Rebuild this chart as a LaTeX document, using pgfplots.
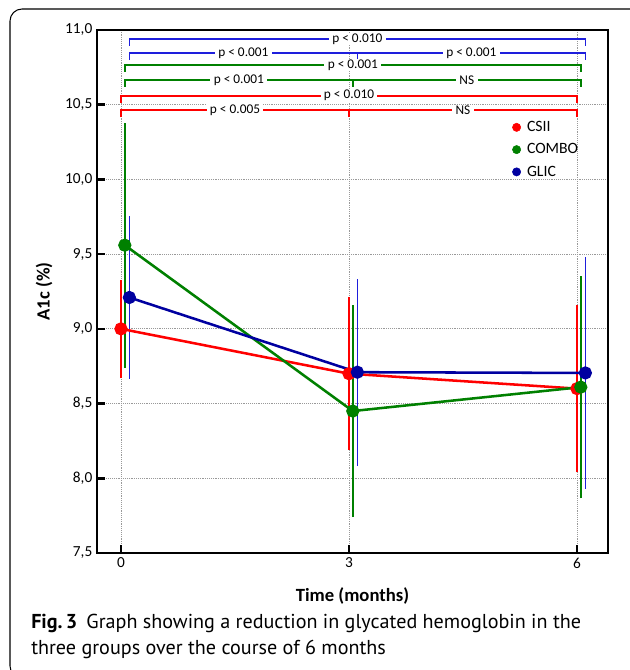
\documentclass[border=0pt]{standalone}
\usepackage{fontspec}
\setmainfont{Carlito}
\newfontfamily\capfont{PT Sans}
\usepackage{pgfplots}
\pgfplotsset{compat=1.18}
\definecolor{cred}{RGB}{255,0,0}
\definecolor{cgreen}{RGB}{0,128,0}
\definecolor{cblue}{RGB}{0,0,160}
\definecolor{cblueb}{RGB}{30,30,220}
\begin{document}
\begin{tikzpicture}[x=0.75pt,y=-0.75pt]
\draw[line width=0.8pt, rounded corners=9pt] (10,9) rectangle (660,678);
\begin{axis}[
  at={(72.75pt,-414.75pt)}, anchor=south west,
  scale only axis, width=383.25pt, height=392.25pt,
  xmin=-0.3158, xmax=6.408, ymin=7.5, ymax=11.0,
  xtick={0,3,6}, ytick={7.5,8,8.5,9,9.5,10,10.5,11},
  xtick pos=bottom, ytick pos=left, tick align=inside,
  major tick length=6pt,
  every tick/.style={black, line width=2pt},
  axis line style={line width=2pt},
  grid=major,
  major grid style={densely dotted, gray!80, line width=0.7pt},
  tick label style={font=\fontsize{11.5}{13}\selectfont},
  /pgf/number format/assume math mode=true,
  yticklabel style={/pgf/number format/.cd, fixed, fixed zerofill, precision=1, use comma},
  xticklabel style={/pgf/number format/.cd, fixed, precision=0},
  ylabel={\textbf{A1c (\%)}},
  xlabel={\textbf{Time (months)}},
  label style={font=\fontsize{14}{16}\selectfont},
  ylabel style={at={(axis description cs:-0.1037,0.5)}, anchor=center},
  xlabel style={at={(axis description cs:0.5,-0.0822)}, anchor=center},
  legend image code/.code={\fill[#1] (0pt,0pt) circle (3.1pt);},
  legend style={at={(axis description cs:0.812,0.828)}, anchor=north west,
    draw=none, fill=none, inner sep=0pt, row sep=6pt,
    font=\fontsize{11.8}{13}\selectfont,
    nodes={inner sep=0pt, text height=8.5pt, text depth=2.2pt},
    /tikz/every even column/.append style={column sep=0pt}},
  legend cell align=left,
  unbounded coords=jump,
  clip=false,
]
\addlegendimage{cred}
\addlegendimage{cgreen}
\addlegendimage{cblue}
\legend{\hspace{4.5pt}CSII,\hspace{4.5pt}COMBO,\hspace{4.5pt}GLIC}
% significance brackets
\addplot[cred, line width=1.2pt, forget plot] coordinates {(0,10.418) (0,10.465) (6,10.465) (6,10.418)};
\addplot[cred, line width=1.2pt, forget plot] coordinates {(3,10.465) (3,10.418)};
\addplot[cred, line width=1.2pt, forget plot] coordinates {(0,10.513) (0,10.56) (6,10.56) (6,10.513)};
\addplot[cgreen, line width=1.2pt, forget plot] coordinates {(0.05,10.619) (0.05,10.666) (6.05,10.666) (6.05,10.619)};
\addplot[cgreen, line width=1.2pt, forget plot] coordinates {(3.05,10.666) (3.05,10.619)};
\addplot[cgreen, line width=1.2pt, forget plot] coordinates {(0.05,10.719) (0.05,10.766) (6.05,10.766) (6.05,10.719)};
\addplot[cblueb, line width=1.2pt, forget plot] coordinates {(0.11,10.798) (0.11,10.845) (6.11,10.845) (6.11,10.798)};
\addplot[cblueb, line width=1.2pt, forget plot] coordinates {(3.11,10.845) (3.11,10.798)};
\addplot[cblueb, line width=1.2pt, forget plot] coordinates {(0.11,10.893) (0.11,10.94) (6.11,10.94) (6.11,10.893)};
\begin{scope}[every node/.style={fill=white, inner xsep=2.5pt, inner ysep=0.3pt, font=\fontsize{10}{10}\selectfont}]
\node at (axis cs:1.5,10.465) {p < 0.005};
\node at (axis cs:4.5,10.465) {NS};
\node at (axis cs:3,10.56) {p < 0.010};
\node at (axis cs:1.55,10.666) {p < 0.001};
\node at (axis cs:4.55,10.666) {NS};
\node at (axis cs:3.05,10.766) {p < 0.001};
\node at (axis cs:1.61,10.845) {p < 0.001};
\node at (axis cs:4.61,10.845) {p < 0.001};
\node at (axis cs:3.11,10.94) {p < 0.010};
\end{scope}
% error bars (mean - SD to mean + SD)
\addplot[cred, line width=1.2pt, forget plot] coordinates {(0,8.67) (0,9.33) (nan,nan) (3,8.19) (3,9.21) (nan,nan) (6,8.04) (6,9.16)};
\addplot[cgreen, line width=1.2pt, forget plot] coordinates {(0.05,8.74) (0.05,10.38) (nan,nan) (3.05,7.74) (3.05,9.16) (nan,nan) (6.05,7.865) (6.05,9.355)};
\addplot[cblueb, line width=1.2pt, forget plot] coordinates {(0.11,8.665) (0.11,9.755) (nan,nan) (3.11,8.085) (3.11,9.335) (nan,nan) (6.11,7.93) (6.11,9.48)};
% means
\addplot[cred, line width=1.9pt, mark=*, mark size=4pt, forget plot]
  coordinates {(0,9.0) (3,8.70) (6,8.60)};
\addplot[cgreen, line width=1.9pt, mark=*, mark size=4pt, forget plot]
  coordinates {(0.05,9.56) (3.05,8.45) (6.05,8.61)};
\addplot[cblue, line width=1.9pt, mark=*, mark size=4pt, forget plot]
  coordinates {(0.11,9.21) (3.11,8.71) (6.11,8.705)};
\end{axis}
\node[anchor=base west, inner sep=0pt, font=\capfont\fontsize{15.1}{18}\selectfont] at (31,628)
  {\textbf{Fig.\,3}\hspace{0.45em}Graph showing a reduction in glycated hemoglobin in the};
\node[anchor=base west, inner sep=0pt, font=\capfont\fontsize{15.1}{18}\selectfont] at (31,654)
  {three groups over the course of 6 months};
\pgfresetboundingbox
\useasboundingbox (0,0) rectangle (629,670);
\end{tikzpicture}
\end{document}
